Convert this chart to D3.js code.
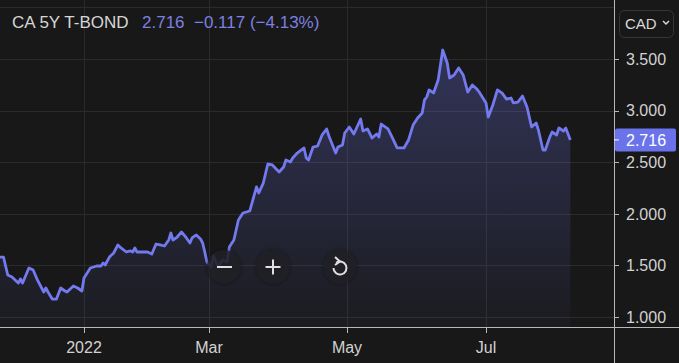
<!DOCTYPE html>
<html>
<head>
<meta charset="utf-8">
<script src="https://cdn.jsdelivr.net/npm/d3@7"></script>
<style>
  html, body { margin: 0; padding: 0; background: #181818; overflow: hidden; }
  svg { display: block; font-family: "Liberation Sans", Arial, sans-serif; }
</style>
</head>
<body>
<svg id="chart"></svg>
<script>
// Define data
var dates = ["2021-11-22","2021-11-24","2021-11-26","2021-11-28","2021-12-01","2021-12-02","2021-12-03","2021-12-06","2021-12-08","2021-12-10",
  "2021-12-13","2021-12-14","2021-12-15","2021-12-17","2021-12-19","2021-12-21","2021-12-23","2021-12-24","2021-12-27","2021-12-29",
  "2021-12-31","2022-01-01","2022-01-04","2022-01-07","2022-01-09","2022-01-10","2022-01-11","2022-01-13","2022-01-15","2022-01-17",
  "2022-01-18","2022-01-21","2022-01-23","2022-01-24","2022-01-25","2022-01-26","2022-01-29","2022-01-31","2022-02-02","2022-02-04",
  "2022-02-06","2022-02-08","2022-02-10","2022-02-11","2022-02-12","2022-02-14","2022-02-16","2022-02-18","2022-02-20","2022-02-21",
  "2022-02-23","2022-02-25","2022-02-26","2022-02-27","2022-02-28","2022-03-02","2022-03-03","2022-03-05","2022-03-07","2022-03-09",
  "2022-03-10","2022-03-12","2022-03-14","2022-03-16","2022-03-19","2022-03-22","2022-03-23","2022-03-25","2022-03-27","2022-03-29",
  "2022-04-01","2022-04-03","2022-04-04","2022-04-06","2022-04-07","2022-04-09","2022-04-12","2022-04-13","2022-04-14","2022-04-16",
  "2022-04-18","2022-04-20","2022-04-22","2022-04-23","2022-04-26","2022-04-27","2022-04-29","2022-04-30","2022-05-02","2022-05-04",
  "2022-05-07","2022-05-08","2022-05-10","2022-05-12","2022-05-14","2022-05-15","2022-05-16","2022-05-19","2022-05-21","2022-05-23",
  "2022-05-26","2022-05-28","2022-05-30","2022-06-01","2022-06-03","2022-06-04","2022-06-05","2022-06-06","2022-06-08","2022-06-10",
  "2022-06-12","2022-06-14","2022-06-15","2022-06-17","2022-06-19","2022-06-21","2022-06-23","2022-06-25","2022-06-27","2022-06-28",
  "2022-07-01","2022-07-02","2022-07-04","2022-07-06","2022-07-08","2022-07-10","2022-07-12","2022-07-13","2022-07-15","2022-07-17",
  "2022-07-19","2022-07-21","2022-07-23","2022-07-24","2022-07-26","2022-07-27","2022-07-29","2022-07-30","2022-08-01","2022-08-02",
  "2022-08-04","2022-08-05","2022-08-07"];

var yields = [1.581,1.581,1.407,1.388,1.329,1.368,1.329,1.475,1.455,1.359,
  1.242,1.281,1.242,1.174,1.174,1.281,1.252,1.242,1.300,1.281,
  1.252,1.378,1.475,1.494,1.494,1.523,1.504,1.581,1.620,1.698,
  1.678,1.630,1.640,1.630,1.669,1.630,1.630,1.630,1.610,1.707,
  1.698,1.688,1.746,1.814,1.746,1.775,1.824,1.775,1.717,1.766,
  1.795,1.756,1.717,1.630,1.533,1.484,1.591,1.484,1.552,1.533,
  1.678,1.746,1.940,2.008,2.027,2.260,2.202,2.298,2.483,2.473,
  2.405,2.453,2.521,2.502,2.541,2.589,2.638,2.541,2.521,2.647,
  2.657,2.764,2.822,2.754,2.589,2.647,2.667,2.783,2.841,2.773,
  2.919,2.802,2.822,2.734,2.773,2.744,2.870,2.822,2.734,2.638,
  2.638,2.715,2.860,2.928,2.977,3.103,3.132,3.200,3.171,3.297,
  3.587,3.461,3.316,3.345,3.413,3.345,3.180,3.248,3.209,3.180,
  3.074,2.938,3.054,3.200,3.171,3.112,3.122,3.074,3.083,3.141,
  3.035,2.841,2.880,2.812,2.618,2.618,2.744,2.793,2.764,2.831,
  2.802,2.831,2.716];

var monthTicks = ["2022-01-01","2022-03-01","2022-05-01","2022-07-01"];
var monthLabels = ["2022","Mar","May","Jul"];
var yTicks = [1.0, 1.5, 2.0, 2.5, 3.0, 3.5];
var yGrid = [1.0, 1.5, 2.0, 2.5, 3.0, 3.5, 4.0];
var lastValue = 2.716;
var title = "CA 5Y T-BOND";
var quote = "2.716  \u22120.117 (\u22124.13%)";

var W = 679, H = 363;
var plotRight = 614, plotBottom = 327;

var parseDate = d3.timeParse("%Y-%m-%d");
var data = dates.map(function(d, i) { return { date: parseDate(d), value: yields[i] }; });

// TradingView squeezes weekends, so the month spacing is not even
var xScale = d3.scaleTime()
  .domain(monthTicks.map(parseDate))
  .range([84, 209, 347, 486]);
var yScale = d3.scaleLinear().domain([1, 4]).range([317, 7.4]);

var svg = d3.select("#chart").attr("width", W).attr("height", H);

var defs = svg.append("defs");
var grad = defs.append("linearGradient").attr("id", "fillGrad")
  .attr("x1", 0).attr("y1", 0).attr("x2", 0).attr("y2", 1);
grad.append("stop").attr("offset", "0%").attr("stop-color", "#6a70e0").attr("stop-opacity", 0.32);
grad.append("stop").attr("offset", "100%").attr("stop-color", "#6a70e0").attr("stop-opacity", 0.04);

var shadow = defs.append("filter").attr("id", "btnShadow")
  .attr("x", "-50%").attr("y", "-50%").attr("width", "200%").attr("height", "200%");
shadow.append("feGaussianBlur").attr("in", "SourceAlpha").attr("stdDeviation", 2);
shadow.append("feComponentTransfer").append("feFuncA").attr("type", "linear").attr("slope", 0.5);
var merge = shadow.append("feMerge");
merge.append("feMergeNode");
merge.append("feMergeNode").attr("in", "SourceGraphic");

svg.append("rect").attr("width", W).attr("height", H).attr("fill", "#181818");

// grid
var grid = svg.append("g").attr("class", "grid");
grid.selectAll(".hg").data(yGrid).enter().append("line")
  .attr("x1", 0).attr("x2", plotRight)
  .attr("y1", function(d) { return Math.round(yScale(d)) + 0.5; })
  .attr("y2", function(d) { return Math.round(yScale(d)) + 0.5; })
  .attr("stroke", "#2b2b2b").attr("stroke-width", 1);
grid.selectAll(".vg").data(monthTicks).enter().append("line")
  .attr("x1", function(d) { return Math.round(xScale(parseDate(d))) + 0.5; })
  .attr("x2", function(d) { return Math.round(xScale(parseDate(d))) + 0.5; })
  .attr("y1", 0).attr("y2", plotBottom)
  .attr("stroke", "#2b2b2b").attr("stroke-width", 1);

// area + line
var plot = svg.append("g");
defs.append("clipPath").attr("id", "plotClip").append("rect")
  .attr("x", 0).attr("y", 0).attr("width", plotRight).attr("height", plotBottom);
plot.attr("clip-path", "url(#plotClip)");

var area = d3.area()
  .x(function(d) { return xScale(d.date); })
  .y0(plotBottom)
  .y1(function(d) { return yScale(d.value); });
var line = d3.line()
  .x(function(d) { return xScale(d.date); })
  .y(function(d) { return yScale(d.value); });

plot.append("path").datum(data).attr("d", area).attr("fill", "url(#fillGrad)");
plot.append("path").datum(data).attr("d", line)
  .attr("fill", "none").attr("stroke", "#7379ee").attr("stroke-width", 2.8)
  .attr("stroke-linejoin", "round");

// axes lines
svg.append("line").attr("x1", 0).attr("x2", W).attr("y1", plotBottom + 0.5).attr("y2", plotBottom + 0.5)
  .attr("stroke", "#b8b8b8").attr("stroke-width", 1);
svg.append("line").attr("x1", plotRight + 0.5).attr("x2", plotRight + 0.5).attr("y1", 0).attr("y2", H)
  .attr("stroke", "#b8b8b8").attr("stroke-width", 1);

// right axis
var yAxis = svg.append("g").attr("transform", "translate(" + plotRight + ",0)");
yAxis.selectAll(".yt").data(yTicks).enter().append("line")
  .attr("x1", 0).attr("x2", 5)
  .attr("y1", function(d) { return Math.round(yScale(d)) + 0.5; })
  .attr("y2", function(d) { return Math.round(yScale(d)) + 0.5; })
  .attr("stroke", "#b8b8b8");
yAxis.selectAll(".yl").data(yTicks).enter().append("text")
  .attr("x", 12).attr("y", function(d) { return yScale(d); })
  .attr("dy", "0.36em")
  .attr("fill", "#d2d2d2").style("font-size", "16px")
  .text(function(d) { return d3.format(".3f")(d); });

// bottom axis
var xAxis = svg.append("g");
xAxis.selectAll(".xt").data(monthTicks).enter().append("line")
  .attr("x1", function(d) { return Math.round(xScale(parseDate(d))) + 0.5; })
  .attr("x2", function(d) { return Math.round(xScale(parseDate(d))) + 0.5; })
  .attr("y1", plotBottom).attr("y2", plotBottom + 6)
  .attr("stroke", "#b8b8b8");
xAxis.selectAll(".xl").data(monthTicks).enter().append("text")
  .attr("x", function(d) { return xScale(parseDate(d)); })
  .attr("y", 353)
  .attr("text-anchor", "middle")
  .attr("fill", "#d2d2d2").style("font-size", "16px")
  .text(function(d, i) { return monthLabels[i]; });

// last price tag
var tagY = yScale(lastValue);
svg.append("rect").attr("x", plotRight + 1).attr("y", tagY - 11.5).attr("width", 61).attr("height", 23)
  .attr("rx", 2).attr("fill", "#6a73ea");
svg.append("line").attr("x1", plotRight).attr("x2", plotRight + 5).attr("y1", tagY).attr("y2", tagY)
  .attr("stroke", "#ffffff");
svg.append("text").attr("x", plotRight + 12).attr("y", tagY).attr("dy", "0.36em")
  .attr("fill", "#ffffff").style("font-size", "16px").text(d3.format(".3f")(lastValue));

// currency button
svg.append("rect").attr("x", 619.5).attr("y", 10.5).attr("width", 54).attr("height", 27).attr("rx", 5)
  .attr("fill", "#181818").attr("stroke", "#363636");
svg.append("text").attr("x", 625).attr("y", 29).attr("fill", "#d8d8d8").style("font-size", "15px").text("CAD");
svg.append("path").attr("d", "M663,21 l3,3 l3,-3")
  .attr("fill", "none").attr("stroke", "#d8d8d8").attr("stroke-width", 1.5);

// title + quote
svg.append("text").attr("x", 12).attr("y", 28).attr("fill", "#d6d6d6").style("font-size", "17px").text(title);
svg.append("text").attr("x", 142).attr("y", 28).attr("fill", "#7c80e0").style("font-size", "17px")
  .attr("xml:space", "preserve").style("white-space", "pre").text(quote);

// zoom buttons
var btns = svg.append("g");
var btnX = [224, 273, 340];
btns.selectAll("circle").data(btnX).enter().append("circle")
  .attr("cx", function(d) { return d; }).attr("cy", 267).attr("r", 17)
  .attr("fill", "#1e1f28").attr("fill-opacity", 0.8).attr("filter", "url(#btnShadow)");
btns.append("line").attr("x1", 217).attr("x2", 232).attr("y1", 267).attr("y2", 267)
  .attr("stroke", "#e0e0e0").attr("stroke-width", 2);
btns.append("line").attr("x1", 265.5).attr("x2", 280.5).attr("y1", 267).attr("y2", 267)
  .attr("stroke", "#e0e0e0").attr("stroke-width", 2);
btns.append("line").attr("x1", 273).attr("x2", 273).attr("y1", 259.5).attr("y2", 274.5)
  .attr("stroke", "#e0e0e0").attr("stroke-width", 2);
btns.append("path").attr("d", d3.arc()({ innerRadius: 6.5, outerRadius: 6.5, startAngle: -Math.PI * 0.2, endAngle: Math.PI * 1.5 }))
  .attr("transform", "translate(340,268)")
  .attr("fill", "none").attr("stroke", "#e0e0e0").attr("stroke-width", 2);
btns.append("path").attr("d", "M335,257 L340,261.5 L335,265")
  .attr("fill", "none").attr("stroke", "#e0e0e0").attr("stroke-width", 2).attr("stroke-linejoin", "round");
</script>
</body>
</html>
